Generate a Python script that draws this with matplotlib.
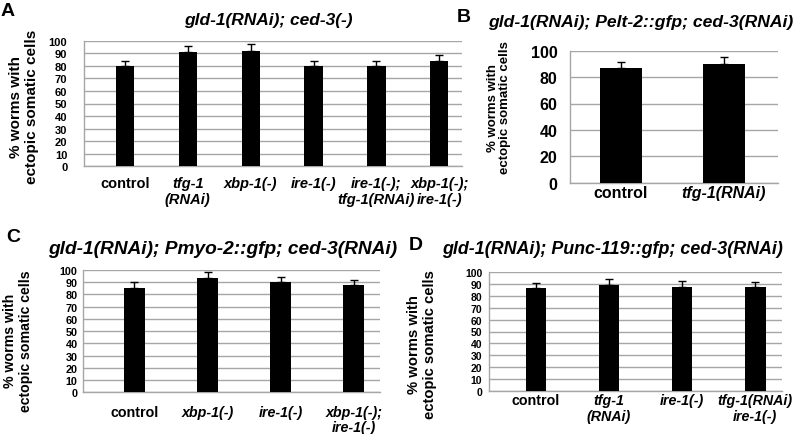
import matplotlib
import matplotlib.pyplot as plt
import numpy as np

matplotlib.rcParams.update({'font.family': ['Liberation Sans', 'DejaVu Sans'],
                            'font.weight': 'bold'})

W, H = 797, 435

# panel A
a_labels = ['control', 'tfg-1\n(RNAi)', 'xbp-1(-)', 'ire-1(-)', 'ire-1(-);\ntfg-1(RNAi)', 'xbp-1(-);\nire-1(-)']
a_vals = [80, 91, 92, 80, 80, 84]
a_err = [4, 4.5, 5, 4, 4, 4.5]

# panel B
b_labels = ['control', 'tfg-1(RNAi)']
b_vals = [87, 90]
b_err = [4.8, 5]

# panel C
c_labels = ['control', 'xbp-1(-)', 'ire-1(-)', 'xbp-1(-);\nire-1(-)']
c_vals = [85.5, 93.5, 90, 87.5]
c_err = [4.5, 4.6, 4.6, 4.5]

# panel D
d_labels = ['control', 'tfg-1\n(RNAi)', 'ire-1(-)', 'tfg-1(RNAi)\nire-1(-)']
d_vals = [87, 89.5, 87.8, 87.3]
d_err = [4.2, 4.8, 4.7, 4.3]

ylab = '% worms with\nectopic somatic cells'


def px(x, y):
    return x / W, 1 - y / H


def panel(box, labels, vals, err, xlim, ystep, width, tfs, xfs, xpad, ypad):
    l, t, r, b = box
    ax = fig.add_axes([l / W, 1 - b / H, (r - l) / W, (b - t) / H])
    x = np.arange(len(vals))
    ax.bar(x, vals, width=width, color='black', zorder=3)
    ax.errorbar(x, vals, yerr=[np.zeros(len(err)), err], fmt='none', ecolor='black',
                elinewidth=1, capsize=3, capthick=1, zorder=4)
    ax.set_xlim(*xlim)
    ax.set_ylim(0, 100)
    ax.set_yticks(np.arange(0, 101, ystep))
    ax.yaxis.grid(True, color='#a6a6a6', linewidth=1, zorder=0)
    ax.set_axisbelow(True)
    for s in ['top', 'right']:
        ax.spines[s].set_visible(False)
    for s in ['left', 'bottom']:
        ax.spines[s].set_color('#a6a6a6')
        ax.spines[s].set_linewidth(1)
    ax.tick_params(axis='y', length=0, labelsize=tfs, pad=ypad)
    ax.tick_params(axis='x', length=0, pad=xpad)
    ax.set_xticks(x)
    ax.set_xticklabels(labels, fontsize=xfs, fontweight='bold', linespacing=1.15)
    for lab in ax.get_xticklabels():
        if lab.get_text() != 'control':
            lab.set_style('italic')
    for lab in ax.get_yticklabels():
        lab.set_fontweight('bold')
    return ax


fig = plt.figure(figsize=(W / 100, H / 100), dpi=100)

panel((84, 41.7, 462, 167.3), a_labels, a_vals, a_err, (-0.65, 5.36), 10, 0.29, 8, 10.5, 7, 12)
panel((570, 51.7, 778, 183.7), b_labels, b_vals, b_err, (-0.495, 1.525), 20, 0.41, 11.5, 11.5, 2, 9)
panel((83.3, 271, 380, 393.3), c_labels, c_vals, c_err, (-0.70, 3.36), 10, 0.28, 7.8, 10.3, 9, 4)
panel((489.3, 273.3, 781.7, 391.7), d_labels, d_vals, d_err, (-0.635, 3.36), 10, 0.28, 7.5, 10.3, 2, 5)

# titles
fig.text(*px(268, 21), 'gld-1(RNAi); ced-3(-)', ha='center', va='center', style='italic', fontsize=12.5)
fig.text(*px(641, 23), 'gld-1(RNAi); Pelt-2::gfp; ced-3(RNAi)', ha='center', va='center', style='italic', fontsize=12.6)
fig.text(*px(223, 249), 'gld-1(RNAi); Pmyo-2::gfp; ced-3(RNAi)', ha='center', va='center', style='italic', fontsize=13.8)
fig.text(*px(612, 249), 'gld-1(RNAi); Punc-119::gfp; ced-3(RNAi)', ha='center', va='center', style='italic', fontsize=12.9)

# panel letters
fig.text(*px(1, 12), 'A', ha='left', va='center', fontsize=14)
fig.text(*px(457, 17), 'B', ha='left', va='center', fontsize=14)
fig.text(*px(6, 238), 'C', ha='left', va='center', fontsize=14)
fig.text(*px(409, 246), 'D', ha='left', va='center', fontsize=14)

# y labels
fig.text(*px(24, 107), ylab, ha='center', va='center', rotation=90, fontsize=11, linespacing=1.1)
fig.text(*px(499, 108), ylab, ha='center', va='center', rotation=90, fontsize=9.5, linespacing=1.1)
fig.text(*px(18, 341), ylab, ha='center', va='center', rotation=90, fontsize=10.2, linespacing=1.1)
fig.text(*px(422, 345), ylab, ha='center', va='center', rotation=90, fontsize=10.7, linespacing=1.1)

fig.savefig('out.png', dpi=100)
